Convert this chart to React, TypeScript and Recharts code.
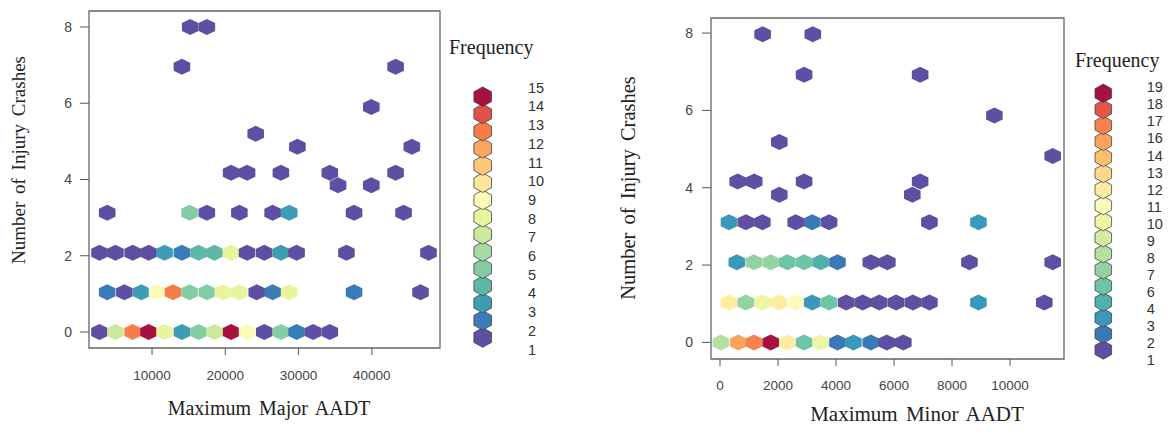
import { ScatterChart, Scatter, XAxis, YAxis, ReferenceArea } from 'recharts';

// axis ticks
const crashTicks = [0, 2, 4, 6, 8];
const majorTicks = [10000, 20000, 30000, 40000];
const minorTicks = [0, 2000, 4000, 6000, 8000, 10000];

// legend levels and their colours (read from the legends)
const majorLevels = [1, 2, 3, 4, 5, 6, 7, 8, 9, 10, 11, 12, 13, 14, 15];
const majorColors = [
  '#5E4FA2', '#3A7CB8', '#3D9DB5', '#5DB8A8', '#83CCA4', '#A7DBA3', '#CBE99D', '#E8F59C',
  '#FBFBB9', '#FEE699', '#FDC979', '#FCA55F', '#F57D4A', '#E1514A', '#A8103F',
];
const minorLevels = [1, 2, 3, 4, 6, 7, 8, 9, 10, 11, 12, 13, 14, 16, 17, 18, 19];
const minorColors = [
  '#5E4FA2', '#3A78B8', '#3A98BA', '#4FB0AC', '#6EC5A5', '#93D3A3', '#B5E0A0', '#D3EC9E',
  '#EDF7A3', '#FBFCBC', '#FEEDA0', '#FED788', '#FDBE6E', '#FBA35C', '#F7824D', '#E65549', '#A8103F',
];

// hexbin cells: [AADT, injury crashes (cell centre), count]
const majorHexes: [number, number, number][] = [
  [2830, 0, 1], [5010, 0, 7], [7360, 0, 13], [9540, 0, 15], [11710, 0, 8], [14080, 0, 3],
  [16340, 0, 5], [18520, 0, 7], [20790, 0, 15], [22970, 0, 9], [25320, 0, 1], [27590, 0, 5],
  [29730, 0, 2], [31990, 0, 1], [34260, 0, 1],
  [3880, 1.04, 2], [6230, 1.04, 1], [8540, 1.04, 3], [10680, 1.04, 9], [12860, 1.04, 13],
  [15120, 1.04, 5], [17480, 1.04, 5], [19660, 1.04, 8], [21920, 1.04, 8], [24290, 1.04, 1],
  [26460, 1.04, 2], [28720, 1.04, 8], [37570, 1.04, 2], [46640, 1.04, 1],
  [2830, 2.08, 1], [5010, 2.08, 1], [7360, 2.08, 1], [9540, 2.08, 1], [11710, 2.08, 3],
  [14080, 2.08, 2], [16340, 2.08, 4], [18520, 2.08, 4], [20790, 2.08, 8], [22970, 2.08, 1],
  [25320, 2.08, 1], [27590, 2.08, 3], [29730, 2.08, 1], [36530, 2.08, 1], [47730, 2.08, 1],
  [3880, 3.13, 1], [15120, 3.13, 5], [17480, 3.13, 1], [21920, 3.13, 1], [26460, 3.13, 1],
  [28720, 3.13, 3], [37570, 3.13, 1], [44330, 3.13, 1],
  [35390, 3.85, 1], [39930, 3.85, 1],
  [20790, 4.18, 1], [22970, 4.18, 1], [27590, 4.18, 1], [34260, 4.18, 1], [43240, 4.18, 1],
  [29840, 4.86, 1], [45460, 4.86, 1],
  [24150, 5.2, 1], [39930, 5.9, 1],
  [14080, 6.96, 1], [43240, 6.96, 1],
  [15210, 8, 1], [17480, 8, 1],
];

const minorHexes: [number, number, number][] = [
  [30, 0, 8], [630, 0, 16], [1170, 0, 17], [1750, 0, 19], [2320, 0, 12], [2900, 0, 6],
  [3470, 0, 10], [4050, 0, 2], [4600, 0, 3], [5200, 0, 2], [5750, 0, 1], [6320, 0, 1],
  [310, 1.03, 12], [890, 1.03, 7], [1460, 1.03, 10], [2030, 1.03, 12], [2610, 1.03, 11],
  [3180, 1.03, 3], [3760, 1.03, 6], [4350, 1.03, 1], [4920, 1.03, 1], [5490, 1.03, 1],
  [6070, 1.03, 1], [6650, 1.03, 1], [7220, 1.03, 1], [8910, 1.03, 3], [11180, 1.03, 1],
  [580, 2.07, 3], [1170, 2.07, 7], [1750, 2.07, 7], [2320, 2.07, 6], [2900, 2.07, 6],
  [3470, 2.07, 4], [4050, 2.07, 2], [5200, 2.07, 1], [5770, 2.07, 1], [8600, 2.07, 1],
  [11470, 2.07, 1],
  [310, 3.11, 3], [890, 3.11, 1], [1460, 3.11, 1], [2610, 3.11, 1], [3180, 3.11, 2],
  [3760, 3.11, 1], [7220, 3.11, 1], [8910, 3.11, 3],
  [2045, 3.82, 1], [6630, 3.82, 1],
  [610, 4.16, 1], [1180, 4.16, 1], [2900, 4.16, 1], [6900, 4.16, 1],
  [11470, 4.82, 1], [2045, 5.18, 1], [9460, 5.87, 1],
  [2900, 6.92, 1], [6900, 6.92, 1],
  [1470, 7.97, 1], [3200, 7.97, 1],
];

const serif = '"Liberation Serif", "Times New Roman", serif';
const sans = '"Liberation Sans", Arial, sans-serif';

function hexPoints(cx: number, cy: number, hw: number, hh: number) {
  return [
    [cx, cy - hh],
    [cx + hw, cy - hh / 2],
    [cx + hw, cy + hh / 2],
    [cx, cy + hh],
    [cx - hw, cy + hh / 2],
    [cx - hw, cy - hh / 2],
  ]
    .map((p) => p.join(','))
    .join(' ');
}

type PanelProps = {
  hexes: [number, number, number][];
  levels: number[];
  colors: string[];
  xDomain: [number, number];
  yDomain: [number, number];
  xTicks: number[];
  width: number;
  margin: { top: number; right: number; bottom: number; left: number };
  tickMarginX: number;
  tickMarginY: number;
};

function HexPanel(p: PanelProps) {
  const data = p.hexes.map(([x, y, count]) => ({ x, y, count }));
  const HexShape = (props: any) => {
    const { cx, cy, payload } = props;
    const fill = p.colors[p.levels.indexOf(payload.count)];
    return <polygon points={hexPoints(cx, cy, 8.3, 8)} fill={fill} />;
  };
  return (
    <ScatterChart width={p.width} height={436} margin={p.margin}>
      <ReferenceArea
        x1={p.xDomain[0]}
        x2={p.xDomain[1]}
        y1={p.yDomain[0]}
        y2={p.yDomain[1]}
        fill="none"
        stroke="#666"
        strokeWidth={1.3}
      />
      <XAxis
        type="number"
        dataKey="x"
        domain={p.xDomain}
        ticks={p.xTicks}
        allowDataOverflow
        axisLine={false}
        tickSize={7}
        tickMargin={p.tickMarginX}
        height={40}
        tickLine={{ stroke: '#555' }}
        tick={{ fill: '#444', fontSize: 13.5, fontFamily: sans }}
      />
      <YAxis
        type="number"
        dataKey="y"
        domain={p.yDomain}
        ticks={crashTicks}
        allowDataOverflow
        axisLine={false}
        tickSize={9}
        tickMargin={p.tickMarginY}
        width={50}
        tickLine={{ stroke: '#555' }}
        tick={{ fill: '#444', fontSize: 14, fontFamily: sans }}
      />
      <Scatter data={data} shape={HexShape} isAnimationActive={false} />
    </ScatterChart>
  );
}

type LegendProps = {
  levels: number[];
  colors: string[];
  hexX: number;
  hexTop: number;
  hexStep: number;
  labelX: number;
  labelTop: number;
  labelStep: number;
  hw: number;
  hh: number;
};

function HexLegend(l: LegendProps) {
  const n = l.levels.length;
  return (
    <g>
      {l.levels.map((lev, i) => {
        const k = n - 1 - i;
        return (
          <g key={lev}>
            <polygon
              points={hexPoints(l.hexX, l.hexTop + k * l.hexStep, l.hw, l.hh)}
              fill={l.colors[i]}
              stroke="#444"
              strokeWidth={0.8}
            />
            <text
              x={l.labelX}
              y={l.labelTop + k * l.labelStep + 5}
              fontSize={14.5}
              fontFamily={sans}
              fill="#333"
            >
              {lev}
            </text>
          </g>
        );
      })}
    </g>
  );
}

export default function App() {
  return (
    <div style={{ position: 'absolute', left: 0, top: 0, width: 1169, height: 436, background: '#fff' }}>
      <div style={{ position: 'absolute', left: 0, top: 0 }}>
        <HexPanel
          hexes={majorHexes}
          levels={majorLevels}
          colors={majorColors}
          xDomain={[1400, 49300]}
          yDomain={[-0.42, 8.42]}
          xTicks={majorTicks}
          width={600}
          margin={{ top: 11, right: 160, bottom: 48, left: 39 }}
          tickMarginX={15}
          tickMarginY={8}
        />
      </div>
      <div style={{ position: 'absolute', left: 600, top: 0 }}>
        <HexPanel
          hexes={minorHexes}
          levels={minorLevels}
          colors={minorColors}
          xDomain={[-310, 11860]}
          yDomain={[-0.43, 8.39]}
          xTicks={minorTicks}
          width={569}
          margin={{ top: 18, right: 105, bottom: 37, left: 61 }}
          tickMarginX={14}
          tickMarginY={9}
        />
      </div>
      <svg
        width={1169}
        height={436}
        style={{ position: 'absolute', left: 0, top: 0, pointerEvents: 'none' }}
      >
        <g fontFamily={serif} fill="#222" style={{ wordSpacing: 3 }}>
          <text x={18} y={160} fontSize={19} textAnchor="middle" dominantBaseline="central" transform="rotate(-90 18 160)">
            Number of Injury Crashes
          </text>
          <text x={269} y={415} fontSize={20} textAnchor="middle">
            Maximum Major AADT
          </text>
          <text x={449} y={54} fontSize={20}>
            Frequency
          </text>
          <text x={628} y={188} fontSize={20.5} textAnchor="middle" dominantBaseline="central" transform="rotate(-90 628 188)">
            Number of Injury Crashes
          </text>
          <text x={917} y={421} fontSize={21} textAnchor="middle">
            Maximum Minor AADT
          </text>
          <text x={1075} y={67} fontSize={20}>
            Frequency
          </text>
        </g>
        <HexLegend
          levels={majorLevels}
          colors={majorColors}
          hexX={482.7}
          hexTop={96.7}
          hexStep={17.2}
          labelX={528}
          labelTop={87.7}
          labelStep={18.7}
          hw={8.8}
          hh={9.8}
        />
        <HexLegend
          levels={minorLevels}
          colors={minorColors}
          hexX={1103.3}
          hexTop={93.3}
          hexStep={16.04}
          labelX={1146.7}
          labelTop={87.3}
          labelStep={17.05}
          hw={8.3}
          hh={9.2}
        />
      </svg>
    </div>
  );
}
